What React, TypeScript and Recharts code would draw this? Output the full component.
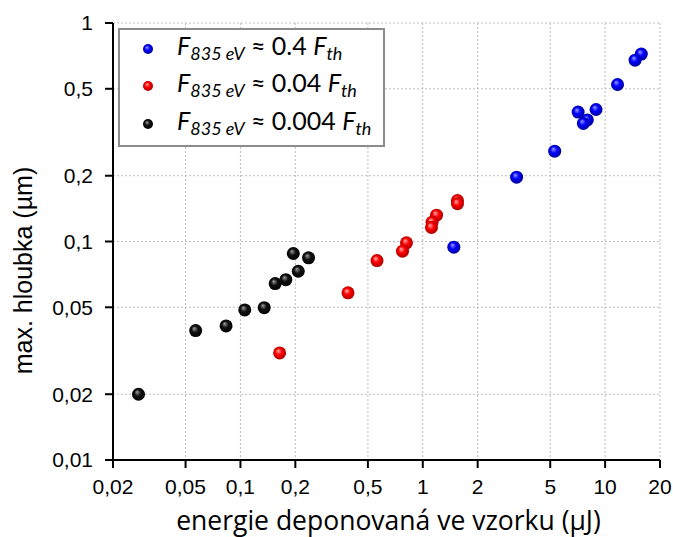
import React from "react";
import { ScatterChart, Scatter, XAxis, YAxis, CartesianGrid } from "recharts";

// energy deposited in the sample (µJ) vs. max. crater depth (µm)
const blueEnergy = [15.8, 14.6, 11.7, 8.92, 7.11, 7.99, 7.6, 5.29, 3.27, 1.48];
const blueDepth = [0.721, 0.676, 0.523, 0.402, 0.391, 0.36, 0.347, 0.259, 0.197, 0.0942];

const redEnergy = [1.55, 1.55, 1.19, 1.125, 1.116, 0.814, 0.774, 0.561, 0.389, 0.164];
const redDepth = [0.154, 0.149, 0.132, 0.1226, 0.1159, 0.0986, 0.0903, 0.0818, 0.0582, 0.0309];

const blackEnergy = [0.0276, 0.0568, 0.0834, 0.1056, 0.135, 0.155, 0.1774, 0.1949, 0.2075, 0.2363];
const blackDepth = [0.02, 0.0391, 0.0411, 0.0486, 0.0498, 0.0642, 0.0669, 0.0881, 0.0731, 0.0842];

const xTicks = [0.02, 0.05, 0.1, 0.2, 0.5, 1, 2, 5, 10, 20];
const yTicks = [0.01, 0.02, 0.05, 0.1, 0.2, 0.5, 1];

const seriesNames = ["0.4", "0.04", "0.004"];

const toPoints = (xs: number[], ys: number[]) => xs.map((x, i) => ({ x, y: ys[i] }));

const fmt = (v: number) => String(v).replace(".", ",");

const ball = (id: string) => (props: any) => {
  const { cx, cy } = props;
  if (cx == null || cy == null) return <g />;
  return <circle cx={cx} cy={cy} r={6.5} fill={`url(#${id})`} />;
};

const colors = [
  { id: "ballBlue", light: "#9c9cff", base: "#0000ff", dark: "#00008a" },
  { id: "ballRed", light: "#ffb0b0", base: "#ff0000", dark: "#a00000" },
  { id: "ballBlack", light: "#a0a0a0", base: "#111111", dark: "#000000" },
];

const LegendBox = () => (
  <div
    style={{
      position: "absolute",
      left: 118,
      top: 28,
      width: 263,
      height: 115,
      border: "2px solid #8c8c8c",
      background: "#fff",
      fontFamily: "Lato, sans-serif",
      fontSize: 25,
      color: "#000",
    }}
  >
    {seriesNames.map((n) => (
      <div key={n} style={{ display: "flex", alignItems: "center", height: 37.5 }}>
        <svg width={57} height={20}>
          <circle cx={28} cy={10} r={5} fill={`url(#${colors[seriesNames.indexOf(n)].id})`} />
        </svg>
        <span style={{ whiteSpace: "nowrap", lineHeight: "24px" }}>
          <i>F</i>
          <sub style={{ fontSize: 18, fontStyle: "italic", verticalAlign: -5 }}>835 eV</sub> ≈ {n} <i>F</i>
          <sub style={{ fontSize: 18, fontStyle: "italic", verticalAlign: -5 }}>th</sub>
        </span>
      </div>
    ))}
  </div>
);

const YTitle = (props: any) => {
  const { viewBox } = props;
  const cx = viewBox.x + 23;
  const cy = viewBox.y + viewBox.height / 2 + 29;
  return (
    <text
      x={cx}
      y={cy}
      transform={`rotate(-90 ${cx} ${cy})`}
      textAnchor="middle"
      dominantBaseline="central"
      fontFamily="'Liberation Sans', Arial, sans-serif"
      fontSize={25}
      fill="#000"
    >
      max. hloubka (µm)
    </text>
  );
};

const XTitle = (props: any) => {
  const { viewBox } = props;
  return (
    <text
      x={viewBox.x + viewBox.width / 2 + 2}
      y={viewBox.y + 70}
      textAnchor="middle"
      fontFamily="'Open Sans', sans-serif"
      fontSize={26.5}
      fill="#000"
    >
      energie deponovaná ve vzorku (µJ)
    </text>
  );
};

export default function App() {
  const tickStyle = { fontFamily: "'Liberation Sans', Arial, sans-serif", fontSize: 21, fill: "#000" };
  return (
    <div style={{ position: "absolute", left: 0, top: 0, width: 673, height: 537, background: "#fff" }}>
      <svg width={0} height={0} style={{ position: "absolute" }}>
        <defs>
          {colors.map((c) => (
            <radialGradient key={c.id} id={c.id} cx="50%" cy="50%" fx="38%" fy="32%" r="55%">
              <stop offset="0%" stopColor={c.light} />
              <stop offset="45%" stopColor={c.base} />
              <stop offset="100%" stopColor={c.dark} />
            </radialGradient>
          ))}
        </defs>
      </svg>
      <ScatterChart width={673} height={537} margin={{ top: 23, right: 13, left: 0, bottom: 0 }}>
        <CartesianGrid stroke="#bdbdbd" strokeDasharray="2 2" strokeWidth={1} />
        <XAxis
          type="number"
          dataKey="x"
          scale="log"
          domain={[0.02, 20]}
          ticks={xTicks}
          allowDataOverflow
          height={77}
          tickFormatter={fmt}
          tick={tickStyle}
          tickSize={8}
          tickMargin={11}
          stroke="#000"
          strokeWidth={2}
          interval={0}
          label={<XTitle />}
        />
        <YAxis
          type="number"
          dataKey="y"
          scale="log"
          domain={[0.01, 1]}
          ticks={yTicks}
          allowDataOverflow
          width={113}
          tickFormatter={fmt}
          tick={tickStyle}
          tickSize={8}
          tickMargin={12}
          stroke="#000"
          strokeWidth={2}
          interval={0}
          label={<YTitle />}
        />
        <Scatter name="0.4" data={toPoints(blueEnergy, blueDepth)} shape={ball("ballBlue")} isAnimationActive={false} />
        <Scatter name="0.04" data={toPoints(redEnergy, redDepth)} shape={ball("ballRed")} isAnimationActive={false} />
        <Scatter name="0.004" data={toPoints(blackEnergy, blackDepth)} shape={ball("ballBlack")} isAnimationActive={false} />
      </ScatterChart>
      <LegendBox />
    </div>
  );
}
